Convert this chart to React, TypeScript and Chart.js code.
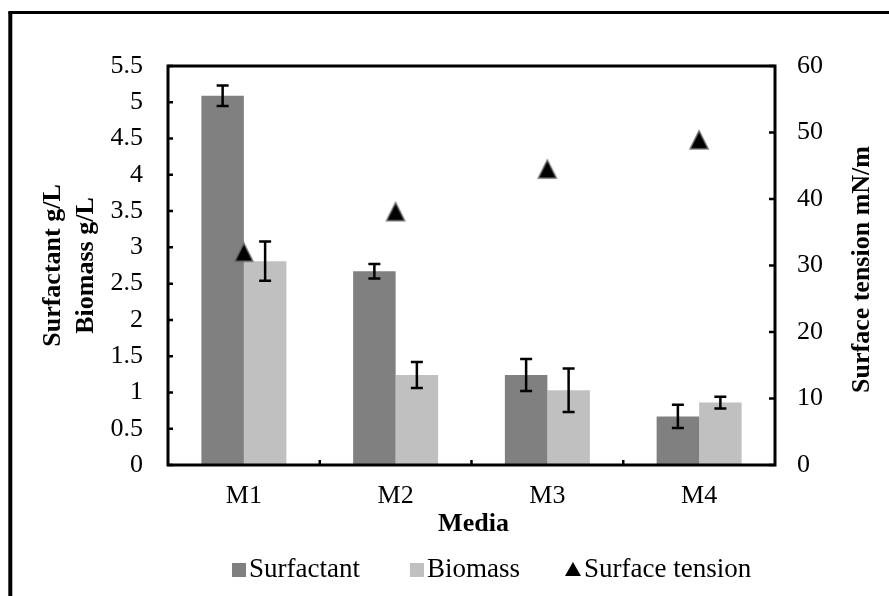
import { useEffect, useRef } from 'react';
import { Chart, registerables } from 'chart.js';

Chart.register(...registerables);

const categories = ['M1', 'M2', 'M3', 'M4'];
const surfactant = [5.09, 2.67, 1.24, 0.67];
const surfactantErr = [0.14, 0.1, 0.22, 0.16];
const biomass = [2.81, 1.24, 1.03, 0.86];
const biomassErr = [0.27, 0.18, 0.3, 0.08];
const surfaceTension = [32.0, 38.1, 44.5, 48.9];

const leftMax = 5.5;
const leftStep = 0.5;
const rightMax = 60;
const rightStep = 10;

const leftTitleLines = ['Surfactant g/L', 'Biomass g/L'];
const rightTitle = 'Surface tension mN/m';
const xTitle = 'Media';

const FONT = '"Liberation Serif", "Times New Roman", Times, serif';
const SURF_COLOR = '#808080';
const BIO_COLOR = '#c0c0c0';

function makeTriangle(size: number) {
  const c = document.createElement('canvas');
  c.width = size;
  c.height = size;
  const g = c.getContext('2d')!;
  g.beginPath();
  g.moveTo(size / 2, 2);
  g.lineTo(size - 2, size - 2);
  g.lineTo(2, size - 2);
  g.closePath();
  g.fillStyle = '#000';
  g.fill();
  g.strokeStyle = 'rgba(105,105,105,0.9)';
  g.lineWidth = 1.5;
  g.stroke();
  return c;
}

export default function App() {
  const ref = useRef<HTMLCanvasElement | null>(null);

  useEffect(() => {
    document.body.style.margin = '0';
    const canvas = ref.current;
    if (!canvas) return;
    const tri = makeTriangle(22);
    const errs = [surfactantErr, biomassErr];

    const errorBars = {
      id: 'errorBars',
      afterDatasetDraw(chart: any, args: any) {
        const i = args.index;
        if (i !== 0 && i !== 1) return;
        const meta = chart.getDatasetMeta(i);
        const ys = chart.scales.y;
        const vals = chart.data.datasets[i].data as number[];
        const ctx = chart.ctx;
        ctx.save();
        ctx.strokeStyle = '#000';
        ctx.lineWidth = 2.5;
        meta.data.forEach((el: any, k: number) => {
          const v = vals[k];
          const e = errs[i][k];
          const yt = ys.getPixelForValue(v + e);
          const yb = ys.getPixelForValue(v - e);
          const x = el.x;
          ctx.beginPath();
          ctx.moveTo(x, yt);
          ctx.lineTo(x, yb);
          ctx.moveTo(x - 6, yt);
          ctx.lineTo(x + 6, yt);
          ctx.moveTo(x - 6, yb);
          ctx.lineTo(x + 6, yb);
          ctx.stroke();
        });
        ctx.restore();
      },
    };

    const decor = {
      id: 'decor',
      afterDraw(chart: any) {
        const ctx = chart.ctx;
        const { left, right, top, bottom } = chart.chartArea;
        const ys = chart.scales.y;
        const y1 = chart.scales.y1;
        const xs = chart.scales.x;
        ctx.save();
        // outer border (left and top visible)
        ctx.strokeStyle = '#000';
        ctx.lineWidth = 4;
        ctx.beginPath();
        ctx.moveTo(10.3, chart.height + 5);
        ctx.lineTo(10.3, 12.5);
        ctx.stroke();
        ctx.lineWidth = 3;
        ctx.beginPath();
        ctx.moveTo(8.3, 12.5);
        ctx.lineTo(chart.width + 5, 12.5);
        ctx.stroke();

        // plot frame
        ctx.lineWidth = 3;
        ctx.strokeRect(left, top, right - left, bottom - top);

        // inward ticks
        ctx.lineWidth = 2.5;
        ctx.beginPath();
        for (let v = 0; v <= leftMax + 1e-9; v += leftStep) {
          const y = ys.getPixelForValue(v);
          ctx.moveTo(left, y);
          ctx.lineTo(left + 5, y);
        }
        for (let v = 0; v <= rightMax + 1e-9; v += rightStep) {
          const y = y1.getPixelForValue(v);
          ctx.moveTo(right, y);
          ctx.lineTo(right - 6, y);
        }
        for (let k = 1; k < categories.length; k++) {
          const x = (xs.getPixelForValue(k - 1) + xs.getPixelForValue(k)) / 2;
          ctx.moveTo(x, bottom);
          ctx.lineTo(x, bottom - 5);
        }
        ctx.stroke();

        // titles
        ctx.fillStyle = '#000';
        ctx.font = `bold 26px ${FONT}`;
        ctx.textAlign = 'center';
        ctx.textBaseline = 'middle';
        const cy = (top + bottom) / 2;
        const titleX = [53, 86];
        leftTitleLines.forEach((t, k) => {
          ctx.save();
          ctx.translate(titleX[k], cy);
          ctx.rotate(-Math.PI / 2);
          ctx.fillText(t, 0, 0);
          ctx.restore();
        });
        ctx.save();
        ctx.translate(862, cy + 4);
        ctx.rotate(-Math.PI / 2);
        ctx.fillText(rightTitle, 0, 0);
        ctx.restore();
        ctx.fillText(xTitle, (left + right) / 2 + 2, 524);

        // legend
        ctx.font = `27px ${FONT}`;
        ctx.textAlign = 'left';
        const ly = 570;
        let x = 232;
        const ds = chart.data.datasets;
        const gaps = [50, 45, 0];
        ds.forEach((d: any, k: number) => {
          if (k < 2) {
            ctx.fillStyle = d.backgroundColor;
            ctx.fillRect(x, ly - 7, 14, 14);
            x += 17;
          } else {
            ctx.fillStyle = '#000';
            ctx.beginPath();
            ctx.moveTo(x + 8, ly - 8);
            ctx.lineTo(x + 16, ly + 6);
            ctx.lineTo(x, ly + 6);
            ctx.closePath();
            ctx.fill();
            x += 19;
          }
          ctx.fillStyle = '#000';
          ctx.fillText(d.label, x, ly);
          x += ctx.measureText(d.label).width + gaps[k];
        });
        ctx.restore();
      },
    };

    const tickFont = { family: FONT, size: 26 };

    const chart = new Chart(canvas, {
      type: 'bar',
      data: {
        labels: categories,
        datasets: [
          {
            type: 'bar',
            label: 'Surfactant',
            data: surfactant,
            backgroundColor: SURF_COLOR,
            yAxisID: 'y',
            categoryPercentage: 0.56,
            barPercentage: 1,
            order: 1,
          },
          {
            type: 'bar',
            label: 'Biomass',
            data: biomass,
            backgroundColor: BIO_COLOR,
            yAxisID: 'y',
            categoryPercentage: 0.56,
            barPercentage: 1,
            order: 1,
          },
          {
            type: 'line',
            label: 'Surface tension',
            data: surfaceTension,
            yAxisID: 'y1',
            showLine: false,
            pointStyle: tri as any,
            pointRadius: 11,
            pointHoverRadius: 11,
            backgroundColor: '#000',
            borderColor: '#000',
            order: 0,
          } as any,
        ],
      },
      options: {
        animation: false,
        responsive: true,
        maintainAspectRatio: false,
        layout: { padding: { top: 66, left: 0, right: 0, bottom: 0 } },
        plugins: {
          legend: { display: false },
          tooltip: { enabled: false },
          title: { display: false },
        },
        scales: {
          x: {
            type: 'category',
            offset: true,
            grid: { display: false, drawTicks: false },
            border: { display: false },
            ticks: { font: tickFont, color: '#000', padding: 16, maxRotation: 0 },
            afterFit: (s: any) => {
              s.height = 131;
            },
          },
          y: {
            type: 'linear',
            position: 'left',
            min: 0,
            max: leftMax,
            grid: { display: false, drawTicks: false },
            border: { display: false },
            ticks: {
              stepSize: leftStep,
              font: tickFont,
              color: '#000',
              padding: 25,
              autoSkip: false,
              callback: (v: any) => String(Number(v)),
            },
            afterFit: (s: any) => {
              s.width = 168;
            },
          },
          y1: {
            type: 'linear',
            position: 'right',
            min: 0,
            max: rightMax,
            grid: { display: false, drawTicks: false },
            border: { display: false },
            ticks: { stepSize: rightStep, font: tickFont, color: '#000', padding: 22, autoSkip: false },
            afterFit: (s: any) => {
              s.width = 114;
            },
          },
        },
      } as any,
      plugins: [errorBars, decor],
    });

    return () => chart.destroy();
  }, []);

  return (
    <div style={{ width: 889, height: 596, position: 'relative', background: '#fff' }}>
      <canvas ref={ref} />
    </div>
  );
}
